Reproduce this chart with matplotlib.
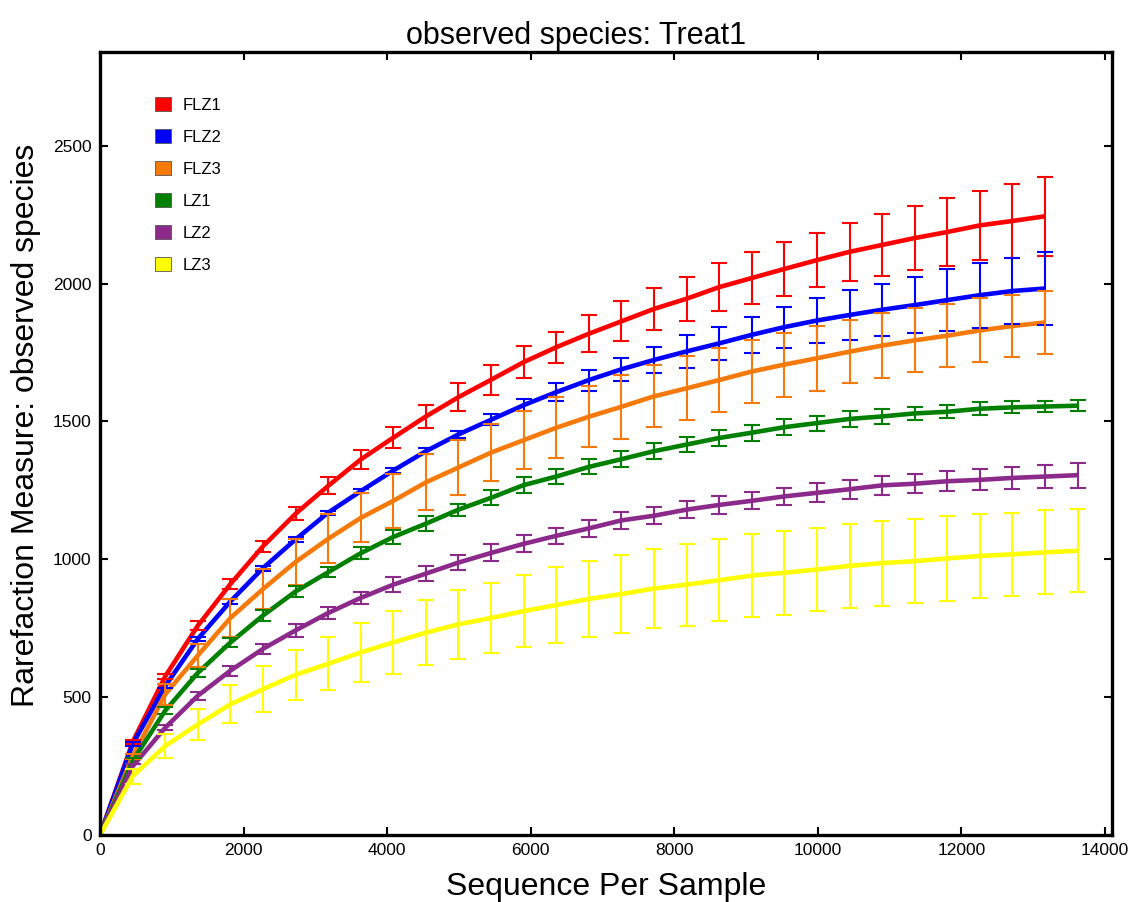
import matplotlib
matplotlib.use("Agg")
import matplotlib.pyplot as plt
from matplotlib.patches import Patch

plt.rcParams['font.family'] = ['Liberation Sans', 'DejaVu Sans']

depth_flz = [0, 454, 908, 1362, 1816, 2270, 2724, 3178, 3632, 4086, 4540, 4994, 5448, 5902,
             6356, 6810, 7264, 7718, 8172, 8626, 9080, 9534, 9988, 10442, 10896, 11350,
             11804, 12258, 12712, 13166]
depth_lz = depth_flz + [13620]

flz1 = [0, 337, 575, 759, 910, 1047, 1165, 1266, 1362, 1441, 1518, 1588, 1651, 1715, 1769,
        1818, 1863, 1908, 1945, 1987, 2020, 2053, 2085, 2115, 2140, 2165, 2187, 2211, 2227, 2244]
flz1_err = [0, 8, 9, 16, 18, 19, 24, 31, 36, 37, 42, 51, 54, 57, 57, 68, 73, 75, 80, 86,
            93, 98, 99, 105, 113, 116, 124, 126, 135, 143]

flz2 = [0, 329, 540, 711, 847, 968, 1072, 1169, 1247, 1322, 1392, 1453, 1506, 1559, 1606,
        1650, 1689, 1723, 1754, 1783, 1814, 1842, 1866, 1886, 1905, 1922, 1940, 1958, 1973, 1982]
flz2_err = [0, 7, 8, 8, 8, 9, 8, 7, 8, 9, 10, 13, 20, 23, 33, 38, 42, 48, 59, 60,
            66, 74, 83, 90, 95, 102, 111, 118, 118, 133]

flz3 = [0, 285, 510, 651, 787, 892, 990, 1074, 1150, 1212, 1279, 1333, 1387, 1432, 1477,
        1517, 1553, 1591, 1620, 1650, 1681, 1706, 1729, 1753, 1775, 1794, 1811, 1830, 1846, 1859]
flz3_err = [0, 10, 37, 42, 69, 72, 82, 89, 89, 98, 101, 101, 104, 105, 110, 110, 116, 112,
            116, 116, 114, 116, 117, 114, 117, 116, 115, 116, 114, 114]

lz1 = [0, 268, 451, 588, 698, 796, 883, 953, 1022, 1081, 1129, 1180, 1223, 1269, 1300, 1335,
       1363, 1392, 1416, 1440, 1459, 1479, 1494, 1509, 1518, 1529, 1535, 1546, 1551, 1554, 1557]
lz1_err = [0, 10, 14, 15, 17, 19, 21, 19, 21, 24, 28, 22, 27, 30, 26, 27, 29, 30, 28, 30,
           29, 30, 27, 28, 27, 25, 23, 23, 22, 20, 20]

lz2 = [0, 249, 389, 505, 596, 675, 742, 805, 860, 908, 948, 988, 1023, 1056, 1085, 1112,
       1141, 1158, 1180, 1197, 1212, 1228, 1241, 1254, 1268, 1274, 1283, 1288, 1295, 1300, 1305]
lz2_err = [0, 9, 9, 14, 18, 18, 23, 21, 23, 28, 28, 28, 31, 31, 30, 30, 32, 31, 32, 33,
           31, 31, 34, 35, 34, 34, 36, 38, 39, 41, 45]

lz3 = [0, 213, 323, 401, 474, 529, 581, 621, 662, 699, 734, 764, 787, 812, 834, 856, 874,
       894, 908, 924, 941, 951, 963, 976, 986, 993, 1003, 1012, 1018, 1025, 1031]
lz3_err = [0, 27, 42, 57, 69, 83, 90, 96, 107, 114, 119, 125, 126, 131, 137, 139, 142, 143,
           149, 149, 152, 152, 152, 153, 154, 152, 154, 153, 151, 152, 150]

names = ['FLZ1', 'FLZ2', 'FLZ3', 'LZ1', 'LZ2', 'LZ3']
colors = ['#FF0000', '#0000FF', '#F57A0A', '#008000', '#8B2A8B', '#FFFF00']
xs = [depth_flz, depth_flz, depth_flz, depth_lz, depth_lz, depth_lz]
ys = [flz1, flz2, flz3, lz1, lz2, lz3]
es = [flz1_err, flz2_err, flz3_err, lz1_err, lz2_err, lz3_err]

fig = plt.figure(figsize=(11.29, 9.02), dpi=100)
ax = fig.add_axes([0.0886, 0.0743, 0.8964, 0.8681])

for x, y, e, c in zip(xs, ys, es, colors):
    ax.plot(x, y, color=c, lw=3.3, solid_capstyle='butt', zorder=2)
    ax.errorbar(x[1:], y[1:], yerr=e[1:], fmt='none', ecolor=c, elinewidth=1.5,
                capsize=6, capthick=1.5, zorder=3)

ax.set_xlim(0, 14100)
ax.set_ylim(0, 2840)
ax.set_xticks(range(0, 14001, 2000))
ax.set_yticks(range(0, 2501, 500))
ax.tick_params(direction='in', top=True, right=True, length=6, width=1.5,
               labelsize=12.5, pad=6)
for s in ax.spines.values():
    s.set_linewidth(2.4)

ax.set_title('observed species: Treat1', fontsize=22, pad=6, x=0.47)
ax.set_xlabel('Sequence Per Sample', fontsize=23, labelpad=10)
ax.set_ylabel('Rarefaction Measure: observed species', fontsize=23)
ax.yaxis.set_label_coords(-0.058, 0.523)

handles = [Patch(facecolor=c, edgecolor='#555555', linewidth=0.6) for c in colors]
ax.legend(handles, names, loc='upper left', bbox_to_anchor=(0.054, 0.943),
          frameon=False, fontsize=12, handlelength=0.95, handleheight=0.95,
          handletextpad=0.72, labelspacing=0.97, borderpad=0, borderaxespad=0)

fig.savefig('out.png', dpi=100)
